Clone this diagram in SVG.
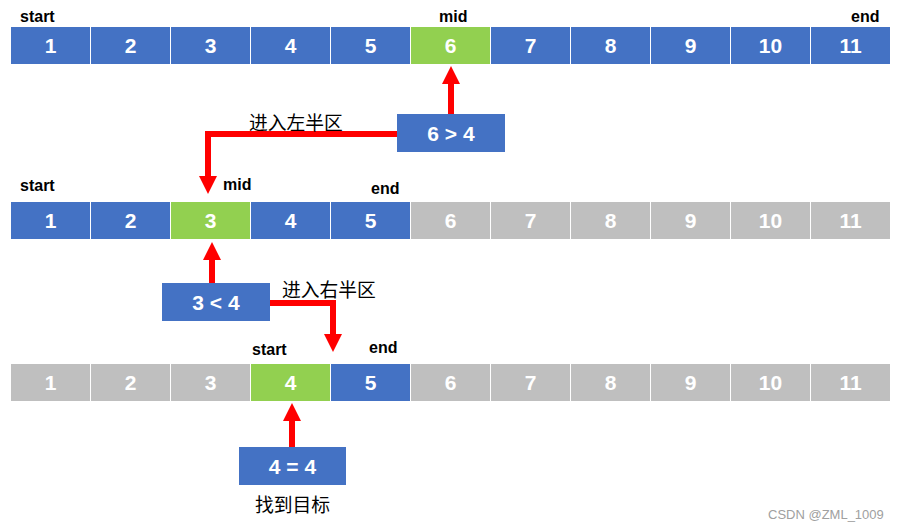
<svg xmlns="http://www.w3.org/2000/svg" width="899" height="531" viewBox="0 0 899 531">
<style>
.b{fill:#4472C4}.g{fill:#92D050}.y{fill:#BFBFBF}
.n{font-family:"Liberation Sans",Arial,sans-serif;font-weight:bold;font-size:21px;fill:#fff;text-anchor:middle}
.l{font-family:"Liberation Sans",Arial,sans-serif;font-weight:bold;font-size:16px;fill:#000}
.c{font-family:"Noto Sans CJK SC",sans-serif;font-size:18.8px;fill:#000}
.w{font-family:"Liberation Sans",Arial,sans-serif;font-size:13px;fill:#A0A0A0}
.a{fill:none;stroke:#FF0000;stroke-width:6}
</style>
<defs>
<marker id="h" markerUnits="userSpaceOnUse" markerWidth="18" markerHeight="18" refX="0" refY="9" orient="auto" overflow="visible">
<path d="M0,0 L18,9 L0,18 z" fill="#FF0000"/>
</marker>
</defs>
<rect width="899" height="531" fill="#fff"/>
<g id="row1">
<rect class="b" x="11" y="27" width="79" height="37"/><text class="n" x="50.5" y="53">1</text>
<rect class="b" x="91" y="27" width="79" height="37"/><text class="n" x="130.5" y="53">2</text>
<rect class="b" x="171" y="27" width="79" height="37"/><text class="n" x="210.5" y="53">3</text>
<rect class="b" x="251" y="27" width="79" height="37"/><text class="n" x="290.5" y="53">4</text>
<rect class="b" x="331" y="27" width="79" height="37"/><text class="n" x="370.5" y="53">5</text>
<rect class="g" x="411" y="27" width="79" height="37"/><text class="n" x="450.5" y="53">6</text>
<rect class="b" x="491" y="27" width="79" height="37"/><text class="n" x="530.5" y="53">7</text>
<rect class="b" x="571" y="27" width="79" height="37"/><text class="n" x="610.5" y="53">8</text>
<rect class="b" x="651" y="27" width="79" height="37"/><text class="n" x="690.5" y="53">9</text>
<rect class="b" x="731" y="27" width="79" height="37"/><text class="n" x="770.5" y="53">10</text>
<rect class="b" x="811" y="27" width="79" height="37"/><text class="n" x="850.5" y="53">11</text>
<text class="l" x="20" y="22">start</text>
<text class="l" x="439" y="22">mid</text>
<text class="l" x="851" y="22">end</text>
</g>
<g id="row2">
<rect class="b" x="11" y="202" width="79" height="37"/><text class="n" x="50.5" y="228">1</text>
<rect class="b" x="91" y="202" width="79" height="37"/><text class="n" x="130.5" y="228">2</text>
<rect class="g" x="171" y="202" width="79" height="37"/><text class="n" x="210.5" y="228">3</text>
<rect class="b" x="251" y="202" width="79" height="37"/><text class="n" x="290.5" y="228">4</text>
<rect class="b" x="331" y="202" width="79" height="37"/><text class="n" x="370.5" y="228">5</text>
<rect class="y" x="411" y="202" width="79" height="37"/><text class="n" x="450.5" y="228">6</text>
<rect class="y" x="491" y="202" width="79" height="37"/><text class="n" x="530.5" y="228">7</text>
<rect class="y" x="571" y="202" width="79" height="37"/><text class="n" x="610.5" y="228">8</text>
<rect class="y" x="651" y="202" width="79" height="37"/><text class="n" x="690.5" y="228">9</text>
<rect class="y" x="731" y="202" width="79" height="37"/><text class="n" x="770.5" y="228">10</text>
<rect class="y" x="811" y="202" width="79" height="37"/><text class="n" x="850.5" y="228">11</text>
<text class="l" x="20" y="191">start</text>
<text class="l" x="223" y="190">mid</text>
<text class="l" x="371" y="194">end</text>
</g>
<g id="row3">
<rect class="y" x="11" y="364" width="79" height="37"/><text class="n" x="50.5" y="390">1</text>
<rect class="y" x="91" y="364" width="79" height="37"/><text class="n" x="130.5" y="390">2</text>
<rect class="y" x="171" y="364" width="79" height="37"/><text class="n" x="210.5" y="390">3</text>
<rect class="g" x="251" y="364" width="79" height="37"/><text class="n" x="290.5" y="390">4</text>
<rect class="b" x="331" y="364" width="79" height="37"/><text class="n" x="370.5" y="390">5</text>
<rect class="y" x="411" y="364" width="79" height="37"/><text class="n" x="450.5" y="390">6</text>
<rect class="y" x="491" y="364" width="79" height="37"/><text class="n" x="530.5" y="390">7</text>
<rect class="y" x="571" y="364" width="79" height="37"/><text class="n" x="610.5" y="390">8</text>
<rect class="y" x="651" y="364" width="79" height="37"/><text class="n" x="690.5" y="390">9</text>
<rect class="y" x="731" y="364" width="79" height="37"/><text class="n" x="770.5" y="390">10</text>
<rect class="y" x="811" y="364" width="79" height="37"/><text class="n" x="850.5" y="390">11</text>
<text class="l" x="252" y="355">start</text>
<text class="l" x="369" y="353">end</text>
</g>
<g id="cmp1"><rect class="b" x="397" y="114" width="108" height="38"/><text class="n" x="451" y="141">6 &gt; 4</text></g>
<g id="cmp2"><rect class="b" x="162" y="283" width="108" height="38"/><text class="n" x="216" y="310">3 &lt; 4</text></g>
<g id="cmp3"><rect class="b" x="239" y="447" width="107" height="38"/><text class="n" x="292.5" y="474">4 = 4</text></g>
<g id="connectors">
<path class="a" d="M451,114 V84" marker-end="url(#h)"/>
<path class="a" d="M397,134 H208 V176" marker-end="url(#h)"/>
<path class="a" d="M212,283 V260" marker-end="url(#h)"/>
<path class="a" d="M270,303 H333 V334" marker-end="url(#h)"/>
<path class="a" d="M292,447 V421" marker-end="url(#h)"/>
</g>
<g id="labels">
<text class="c" x="249" y="130">进入左半区</text>
<text class="c" x="282" y="297">进入右半区</text>
<text class="c" x="255" y="512">找到目标</text>
<text class="w" x="768" y="519">CSDN @ZML_1009</text>
</g>
</svg>
